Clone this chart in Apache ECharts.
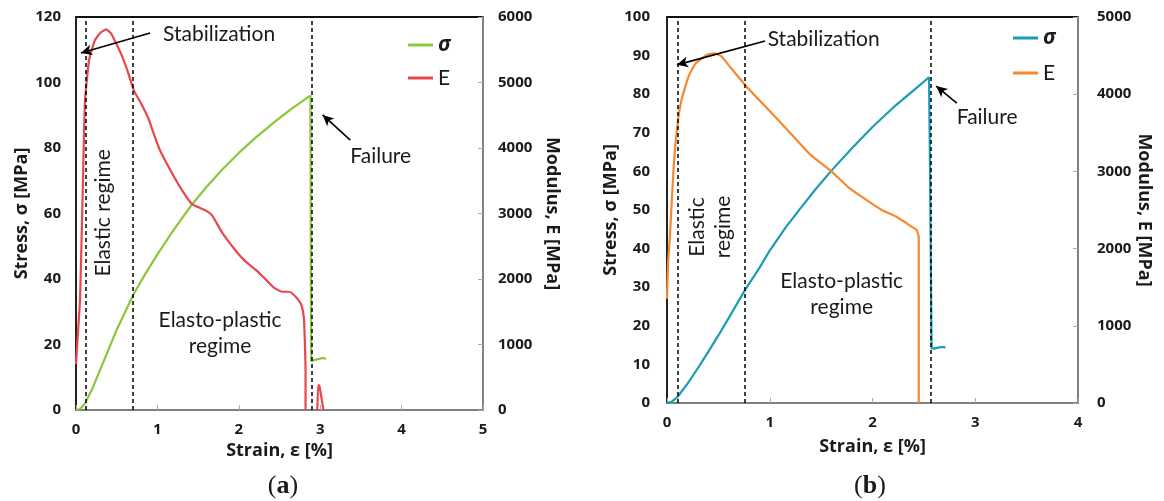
<!DOCTYPE html>
<html><head><meta charset="utf-8">
<script src="https://cdn.jsdelivr.net/npm/echarts@6/dist/echarts.min.js"></script>
<style>html,body{margin:0;padding:0;background:#fff}#c{width:1164px;height:501px}</style>
</head><body><div id="c"></div>
<script>
// ---- Data (strain [%], value) ----
const stressA = [[0,0],[0.05,0.3],[0.11,2],[0.2,6.5],[0.3,12.5],[0.5,24.5],[0.71,35.5],[0.85,41.5],[1.0,47.5],[1.2,55],[1.42,62.6],[1.6,68],[1.8,73.5],[2.0,78.5],[2.2,83],[2.44,88],[2.65,92],[2.88,96],[2.885,40],[2.89,15],[2.95,15.4],[3.0,15.7],[3.04,15.9],[3.07,15.6]];
const modulusA = [[0,700],[0.02,1100],[0.05,1700],[0.08,3200],[0.11,4700],[0.16,5340],[0.23,5640],[0.3,5760],[0.37,5810],[0.43,5750],[0.5,5580],[0.57,5390],[0.64,5150],[0.71,4880],[0.8,4680],[0.89,4450],[0.96,4200],[1.03,3970],[1.16,3660],[1.3,3360],[1.42,3150],[1.53,3080],[1.6,3040],[1.67,2975],[1.8,2700],[1.99,2390],[2.1,2250],[2.21,2140],[2.3,2030],[2.42,1880],[2.53,1805],[2.62,1805],[2.72,1700],[2.77,1600],[2.8,1400],[2.81,1100],[2.82,600],[2.82,0],[2.9,'-'],[2.965,0],[2.975,380],[2.99,370],[3.04,0]];
const stressB = [[0,0],[0.05,0.4],[0.1,1.5],[0.2,5],[0.3,9],[0.4,13.2],[0.5,17.5],[0.6,22],[0.76,29.3],[0.9,35],[1.0,39.5],[1.15,45.3],[1.3,50.5],[1.45,55.5],[1.6,60.2],[1.8,66],[2.0,71.5],[2.2,76.5],[2.4,81],[2.55,84.4],[2.56,60],[2.575,14.2],[2.6,14.1],[2.65,14.4],[2.68,14.5],[2.71,14.4]];
const modulusB = [[0,1350],[0.01,1800],[0.03,2200],[0.065,3060],[0.1,3580],[0.14,3920],[0.21,4230],[0.28,4400],[0.39,4510],[0.46,4530],[0.53,4490],[0.61,4360],[0.76,4120],[0.9,3920],[1.08,3670],[1.26,3410],[1.4,3210],[1.6,3000],[1.76,2800],[1.94,2630],[2.09,2500],[2.23,2415],[2.38,2285],[2.43,2240],[2.45,2150],[2.45,0]];
// regime boundaries (strain %)
const boundsA = [0.12, 0.7, 2.9];
const boundsB = [0.1, 0.76, 2.57];
const captions = ['a', 'b'];

const FONT = "Lato, 'Open Sans', 'Noto Sans', sans-serif";
const BFONT = "'Open Sans', 'Noto Sans', sans-serif";
const TXT = '#1a1a1a';
const colors = { sA: '#8cc63f', eA: '#e8474c', sB: '#1b9bb6', eB: '#f6882e' };
const plain = v => String(v);

function xAxisCfg(grid, max) {
  return {
    type: 'value', gridIndex: grid, min: 0, max: max, interval: 1,
    name: 'Strain, ε [%]', nameLocation: 'middle', nameGap: grid === 0 ? 31 : 35,
    nameTextStyle: { fontFamily: BFONT, fontWeight: 'bold', fontSize: 18, color: TXT },
    axisLine: { lineStyle: { color: '#808080', width: 2 } },
    axisTick: { inside: true, length: 5, lineStyle: { color: '#aaa' } },
    axisLabel: { fontFamily: BFONT, fontWeight: 'bold', fontSize: 15, color: TXT, margin: 12, formatter: plain },
    splitLine: { show: false }
  };
}
function yLeft(grid, max, interval, gap, margin) {
  return {
    type: 'value', gridIndex: grid, min: 0, max: max, interval: interval, position: 'left',
    name: 'Stress, σ [MPa]', nameLocation: 'middle', nameGap: gap, nameRotate: 90,
    nameTextStyle: { fontFamily: BFONT, fontWeight: 'bold', fontSize: 18, color: TXT },
    axisLine: { show: true, lineStyle: { color: '#222', width: 2 } },
    axisTick: { show: false },
    axisLabel: { fontFamily: BFONT, fontWeight: 'bold', fontSize: 15, color: TXT, margin: margin, formatter: plain },
    splitLine: { show: false }
  };
}
function yRight(grid, max, gap, margin) {
  return {
    type: 'value', gridIndex: grid, min: 0, max: max, interval: 1000, position: 'right',
    name: 'Modulus, E [MPa]', nameLocation: 'middle', nameGap: gap, nameRotate: -90,
    nameTextStyle: { fontFamily: BFONT, fontWeight: 'bold', fontSize: 18, color: TXT },
    axisLine: { show: true, lineStyle: { color: '#808080', width: 2 } },
    axisTick: { inside: true, length: 5, lineStyle: { color: '#aaa' } },
    axisLabel: { fontFamily: BFONT, fontWeight: 'bold', fontSize: 15, color: TXT, margin: margin, formatter: plain },
    splitLine: { show: false }
  };
}
const dashed = { color: '#000', type: [4, 3], width: 1.5 };
function vlines(arr) { return arr.map(v => ({ xAxis: v, lineStyle: dashed })); }
function arrow(from, to) {
  return [{ coord: from, symbol: 'none', lineStyle: { color: '#000', type: 'solid', width: 1.6 } },
          { coord: to, symbol: 'arrow', symbolSize: [8, 11] }];
}
function note(coord, text, rot) {
  return { coord: coord, symbolSize: 0, label: { show: true, formatter: text, position: 'inside',
    rotate: rot || 0, fontFamily: FONT, fontSize: 21, color: TXT, lineHeight: 26, align: 'center' } };
}
function leftNote(coord, text) {
  return { coord: coord, symbolSize: 0, label: { show: true, formatter: text, position: 'right', distance: 0,
    fontFamily: FONT, fontSize: 21, color: TXT } };
}

const legendBase = {
  orient: 'vertical', itemWidth: 25, itemHeight: 3, itemGap: 11, icon: 'rect',
  textStyle: { lineHeight: 22, rich: {
    s: { fontFamily: "'Noto Sans', 'DejaVu Sans', sans-serif", fontStyle: 'italic', fontWeight: 'bold', fontSize: 21, color: TXT, lineHeight: 22 },
    e: { fontFamily: FONT, fontSize: 21, color: TXT, lineHeight: 22 } } },
  formatter: n => n.charAt(0) === 'σ' ? '{s|σ}' : '{e|E}'
};

const chart = echarts.init(document.getElementById('c'), null, { renderer: 'canvas' });
chart.setOption({
  animation: false,
  backgroundColor: '#fff',
  grid: [
    { left: 76, right: 1164 - 483, top: 17, bottom: 501 - 410, show: true, borderColor: '#111', borderWidth: 2 },
    { left: 667, right: 1164 - 1078, top: 17, bottom: 501 - 403, show: true, borderColor: '#111', borderWidth: 2 }
  ],
  legend: [
    Object.assign({}, legendBase, { left: 403, top: 29, data: ['σ (a)', 'E (a)'] }),
    Object.assign({}, legendBase, { left: 1008, top: 22, itemGap: 13, data: ['σ (b)', 'E (b)'] })
  ],
  xAxis: [xAxisCfg(0, 5), xAxisCfg(1, 4)],
  yAxis: [yLeft(0, 120, 20, 42, 15), yRight(0, 6000, 60, 15), yLeft(1, 100, 10, 47, 17), yRight(1, 5000, 56, 19)],
  series: [
    { name: 'σ (a)', type: 'line', xAxisIndex: 0, yAxisIndex: 0, data: stressA, symbol: 'none',
      color: colors.sA, lineStyle: { width: 2.2, color: colors.sA }, z: 3,
      markLine: { silent: true, symbol: 'none', label: { show: false }, animation: false,
        data: vlines(boundsA).concat([arrow([0.91, 115.1], [0.06, 109]), arrow([3.37, 82.4], [3.03, 90.1])]) },
      markPoint: { silent: true, symbol: 'circle', data: [
        leftNote([1.07, 114.8], 'Stabilization'),
        leftNote([3.37, 77.6], 'Failure'),
        note([0.34, 60.2], 'Elastic regime', 90),
        note([1.77, 23.5], 'Elasto-plastic\nregime', 0)
      ] } },
    { name: 'E (a)', type: 'line', xAxisIndex: 0, yAxisIndex: 1, data: modulusA, symbol: 'none', smooth: 0.15,
      connectNulls: false, color: colors.eA, lineStyle: { width: 2.2, color: colors.eA }, z: 3 },
    { name: 'σ (b)', type: 'line', xAxisIndex: 1, yAxisIndex: 2, data: stressB, symbol: 'none',
      color: colors.sB, lineStyle: { width: 2.2, color: colors.sB }, z: 3,
      markLine: { silent: true, symbol: 'none', label: { show: false }, animation: false,
        data: vlines(boundsB).concat([arrow([0.955, 93.8], [0.097, 87.6]), arrow([2.82, 77.7], [2.62, 82.1])]) },
      markPoint: { silent: true, symbol: 'circle', data: [
        leftNote([0.98, 94.3], 'Stabilization'),
        leftNote([2.82, 74.1], 'Failure'),
        note([0.42, 45.6], 'Elastic\nregime', 90),
        note([1.7, 28.2], 'Elasto-plastic\nregime', 0)
      ] } },
    { name: 'E (b)', type: 'line', xAxisIndex: 1, yAxisIndex: 3, data: modulusB, symbol: 'none', smooth: 0.15,
      color: colors.eB, lineStyle: { width: 2.2, color: colors.eB }, z: 3 }
  ],
  graphic: captions.map((c, i) => ({
    type: 'text', x: i === 0 ? 283 : 870, y: 486,
    style: { text: '{p|(}{b|' + c + '}{p|)}', align: 'center', verticalAlign: 'middle',
      rich: { p: { fontFamily: "'Liberation Serif', 'DejaVu Serif', serif", fontSize: 26, fill: TXT },
              b: { fontFamily: "'Liberation Serif', 'DejaVu Serif', serif", fontSize: 26, fontWeight: 'bold', fill: TXT } } }
  }))
});
</script>
</body></html>
